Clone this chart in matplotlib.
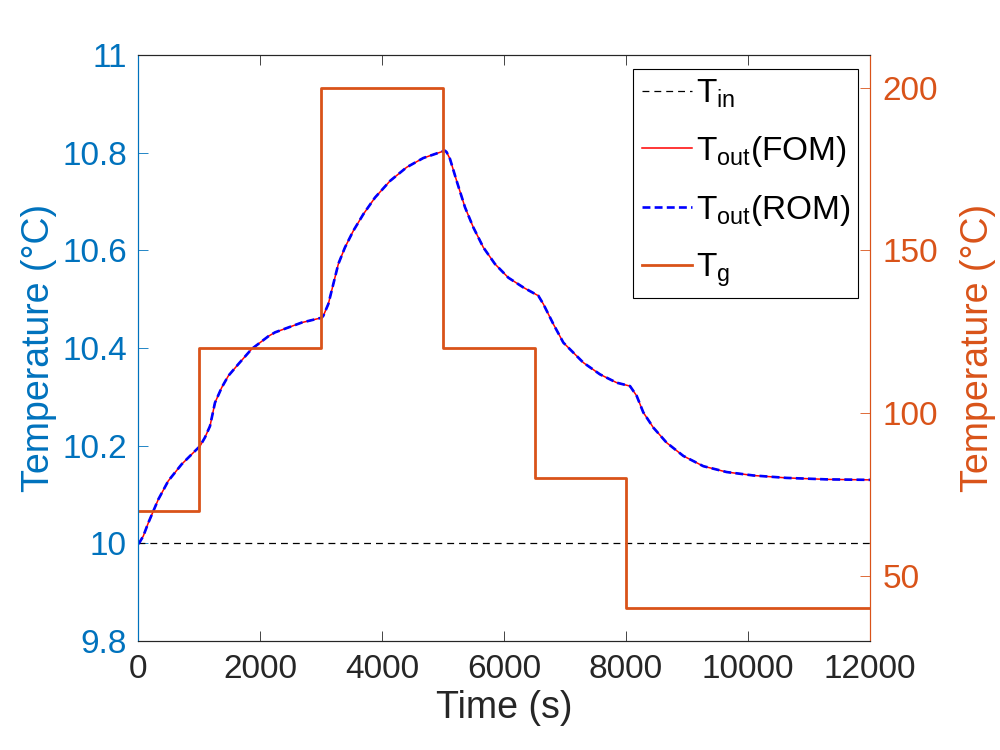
import matplotlib
matplotlib.use("Agg")
import matplotlib.pyplot as plt

plt.rcParams['font.family'] = ['Liberation Sans', 'DejaVu Sans']
plt.rcParams['mathtext.fontset'] = 'custom'
plt.rcParams['mathtext.rm'] = 'Liberation Sans'
plt.rcParams['mathtext.it'] = 'Liberation Sans'

# ---- data ----
tin_time = [0, 12000]
tin_vals = [10.0, 10.0]

tout_time = [0, 16, 87, 169, 251, 333, 497, 716, 934, 1016, 1098, 1180, 1262, 1372,
             1481, 1645, 1864, 2137, 2246, 2683, 3011, 3038, 3120, 3202, 3284, 3393,
             3530, 3694, 3885, 4131, 4404, 4677, 5005, 5033, 5060, 5115, 5224, 5361,
             5497, 5661, 5852, 6071, 6317, 6563, 6645, 6809, 6973, 7301, 7574, 7847,
             8066, 8175, 8284, 8448, 8667, 8940, 9268, 9650, 10087, 10634, 11290, 12000]
tout_fom = [10.000, 10.000, 10.015, 10.042, 10.066, 10.090, 10.128, 10.162, 10.189,
            10.199, 10.217, 10.240, 10.288, 10.319, 10.343, 10.367, 10.398, 10.424,
            10.432, 10.452, 10.462, 10.466, 10.490, 10.531, 10.572, 10.606, 10.640,
            10.674, 10.708, 10.742, 10.770, 10.789, 10.803, 10.804, 10.801, 10.787,
            10.742, 10.688, 10.647, 10.606, 10.572, 10.544, 10.524, 10.507, 10.490,
            10.449, 10.411, 10.370, 10.346, 10.329, 10.322, 10.302, 10.268, 10.237,
            10.206, 10.179, 10.158, 10.146, 10.139, 10.134, 10.131, 10.130]
tout_rom = list(tout_fom)

tg_time = [0, 1000, 3000, 5000, 6500, 8000, 12000]
tg_vals = [70, 120, 200, 120, 80, 40, 40]

xticks = [0, 2000, 4000, 6000, 8000, 10000, 12000]
yticks_left = [9.8, 10.0, 10.2, 10.4, 10.6, 10.8, 11.0]
yticks_left_lbl = ['9.8', '10', '10.2', '10.4', '10.6', '10.8', '11']
yticks_right = [50, 100, 150, 200]

blue_axis = '#0072BD'
orange = '#D95319'
dark = '#262626'

fig = plt.figure(figsize=(10, 7.5), dpi=100)
ax = fig.add_axes([0.138, 0.1453, 0.732, 0.7814])
ax2 = ax.twinx()

l_in, = ax.plot(tin_time, tin_vals, color='black', lw=0.9, linestyle=(0, (5.5, 4)),
                label=r'$\mathregular{T_{in}}$')
l_fom, = ax.plot(tout_time, tout_fom, color='red', lw=1.1,
                 label=r'$\mathregular{T_{out}}$(FOM)')
l_rom, = ax.plot(tout_time, tout_rom, color='blue', lw=1.9, linestyle=(0, (3, 1.6)),
                 label=r'$\mathregular{T_{out}}$(ROM)')
l_g, = ax2.step(tg_time, tg_vals, where='post', color=orange, lw=2.0,
                label=r'$\mathregular{T_{g}}$')

ax.set_xlim(0, 12000)
ax.set_ylim(9.8, 11.0)
ax2.set_ylim(30, 210)

ax.set_xticks(xticks)
ax.set_xticklabels([str(x) for x in xticks])
ax.set_yticks(yticks_left)
ax.set_yticklabels(yticks_left_lbl)
ax2.set_yticks(yticks_right)

fs_tick = 24
fs_lab = 27
ax.tick_params(axis='x', direction='in', length=7, width=0.6, colors=dark,
               labelsize=fs_tick, top=True, pad=9)
ax.tick_params(axis='y', direction='in', length=7, width=0.6, colors=blue_axis,
               labelsize=fs_tick, right=False, pad=8)
ax2.tick_params(axis='y', direction='in', length=7, width=0.6, colors=orange,
                labelsize=fs_tick, pad=9)

for a in (ax, ax2):
    a.spines['top'].set_color(dark)
    a.spines['bottom'].set_color(dark)
    a.spines['left'].set_color(blue_axis)
    a.spines['right'].set_color(orange)
    for s in a.spines.values():
        s.set_linewidth(0.8)

ax.set_xlabel('Time (s)', fontsize=fs_lab, color=dark, labelpad=4)
ax.set_ylabel('Temperature (°C)', fontsize=fs_lab, color=blue_axis, labelpad=4)
ax2.set_ylabel('Temperature (°C)', fontsize=fs_lab, color=orange, labelpad=16)

leg = ax2.legend(handles=[l_in, l_fom, l_rom, l_g], loc='upper right',
                 bbox_to_anchor=(0.984, 0.976), borderaxespad=0, fontsize=fs_tick,
                 fancybox=False, framealpha=1, edgecolor='black',
                 handlelength=1.5, handletextpad=0.12, labelspacing=0.72,
                 borderpad=0.25)
leg.get_frame().set_linewidth(0.8)

fig.savefig('out.png', dpi=100, facecolor='white')
